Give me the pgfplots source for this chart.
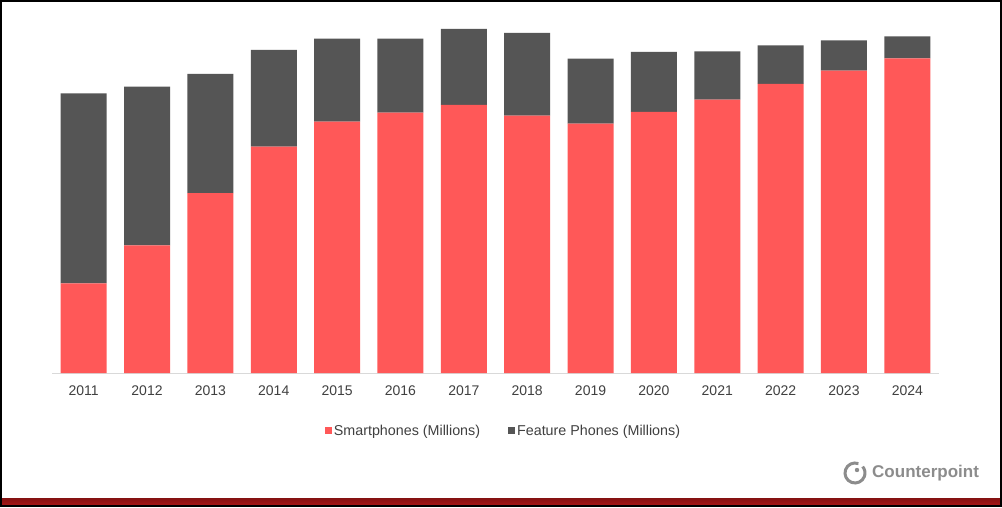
\documentclass[border=0pt]{standalone}
\usepackage{pgfplots}
\pgfplotsset{compat=1.18}
\usepackage{fontspec}
\setmainfont{Liberation Sans}
\definecolor{smart}{RGB}{255,88,88}
\definecolor{feat}{RGB}{85,85,85}
\definecolor{axgrey}{RGB}{217,217,217}
\definecolor{txt}{RGB}{64,64,64}
\definecolor{logo}{RGB}{140,140,140}
\definecolor{barred}{RGB}{165,22,22}
\begin{document}
\begin{tikzpicture}[x=1pt,y=1pt]
\fill[white] (0,0) rectangle (1002,507);
\begin{axis}[
  at={(52pt,134pt)}, anchor=south west,
  scale only axis, width=887pt, height=353pt,
  xmin=-0.5, xmax=13.5, ymin=0, ymax=353,
  ybar stacked, bar width=46pt,
  axis x line*=bottom, axis y line=none,
  x axis line style={axgrey, line width=1pt, -},
  xtick=data, major tick length=0pt,
  xticklabels={2011,2012,2013,2014,2015,2016,2017,2018,2019,2020,2021,2022,2023,2024},
  xticklabel style={font=\fontsize{14}{16}\selectfont, text=txt, yshift=-9pt},
  /pgf/number format/assume math mode=true,
  legend columns=2,
  legend style={at={(0.509,-0.164)}, anchor=center, draw=none, fill=none,
    font=\fontsize{14.3}{16}\selectfont, text=txt,
    /tikz/every even column/.append style={column sep=26pt}},
  legend image code/.code={\fill[#1] (0pt,-3.5pt) rectangle (7pt,3.5pt);},
]
\addplot[fill=smart, draw=none] coordinates {
(0,89.7) (1,127.7) (2,180) (3,226.3) (4,251.3) (5,260.3) (6,268)
(7,257.3) (8,249.3) (9,261) (10,273.3) (11,289) (12,302.3) (13,314.7)};
\addlegendentry{Smartphones (Millions)}
\addplot[fill=feat, draw=none] coordinates {
(0,190) (1,158.6) (2,119) (3,96.7) (4,83) (5,74) (6,76)
(7,82.7) (8,65) (9,60) (10,48.4) (11,38.7) (12,30.4) (13,22)};
\addlegendentry{Feature Phones (Millions)}
\end{axis}
% logo
\draw[logo, line width=3pt] (855,34) ++(70:10) arc (70:400:10);
\fill[logo] (857,37) circle (2.2);
\node[anchor=west, text=logo, font=\bfseries\fontsize{17}{20}\selectfont, inner sep=0pt] at (872,34) {Counterpoint};
% bottom bar
\shade[top color=barred!80!black, bottom color=barred] (1,2) rectangle (1001,9);
\draw[black, line width=2pt] (1,1) rectangle (1001,506);
\end{tikzpicture}
\end{document}
